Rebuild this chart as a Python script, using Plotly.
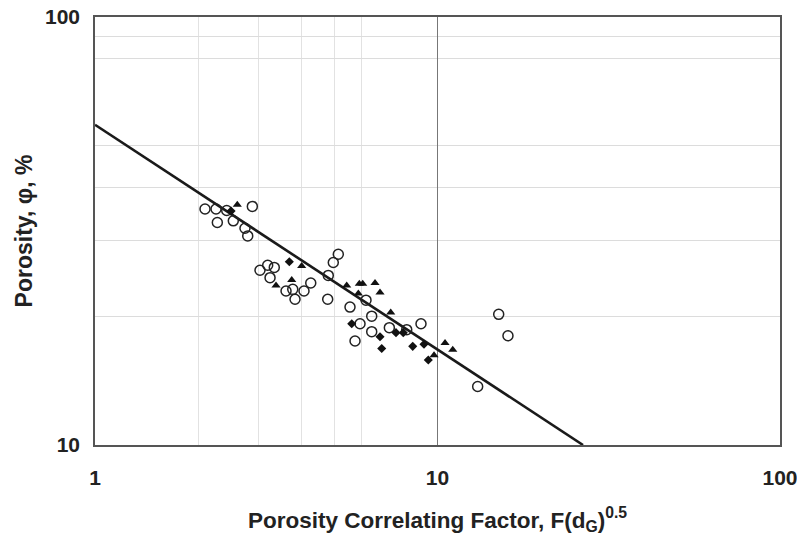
import plotly.graph_objects as go

# Open circles
circ_x = [2.095, 2.256, 2.276, 2.424, 2.534, 2.741, 2.792, 2.880, 3.032, 3.193, 3.338, 3.244,
          3.612, 3.837, 3.779, 4.076, 4.265, 4.780, 4.799, 4.963, 5.133, 5.553, 5.940, 6.184,
          6.426, 6.426, 5.744, 7.234, 8.131, 8.950, 15.09, 16.06, 13.10]
circ_y = [35.6, 35.6, 33.1, 35.3, 33.4, 32.1, 30.8, 36.1, 25.6, 26.3, 26.0, 24.6,
          22.9, 21.9, 23.1, 22.9, 23.9, 21.9, 24.9, 26.7, 27.9, 21.0, 19.2, 21.8,
          20.0, 18.4, 17.5, 18.8, 18.6, 19.2, 20.2, 18.0, 13.7]

# Filled triangles
tri_x = [2.603, 3.377, 3.753, 4.013, 5.431, 5.873, 5.912, 6.048, 6.570, 6.795, 7.302, 10.52, 11.08, 9.77]
tri_y = [36.4, 23.6, 24.3, 26.2, 23.6, 22.6, 23.8, 23.8, 23.9, 22.7, 20.4, 17.3, 16.7, 16.2]

# Filled diamonds
dia_x = [2.496, 3.693, 5.618, 6.795, 6.873, 7.565, 7.945, 8.466, 9.132, 9.400]
dia_y = [35.2, 26.8, 19.2, 17.9, 16.8, 18.3, 18.3, 17.0, 17.2, 15.8]

# Correlation line
line_x = [1.0, 26.6]
line_y = [56.0, 10.0]

x_ticks = [1, 10, 100]
y_ticks = [10, 100]
x_minor = [2, 3, 4, 5, 6]
y_minor = [20, 30, 40, 50, 80, 90]

fig = go.Figure()
fig.add_trace(go.Scatter(x=line_x, y=line_y, mode="lines",
                         line=dict(color="#1a1a1a", width=2.6), hoverinfo="skip"))
fig.add_trace(go.Scatter(x=circ_x, y=circ_y, mode="markers",
                         marker=dict(symbol="circle-open", size=10, color="#222",
                                     line=dict(width=1.5, color="#222"))))
fig.add_trace(go.Scatter(x=tri_x, y=tri_y, mode="markers",
                         marker=dict(symbol="triangle-up", size=8, color="#111")))
fig.add_trace(go.Scatter(x=dia_x, y=dia_y, mode="markers",
                         marker=dict(symbol="diamond", size=7, color="#111")))

fig.update_layout(
    width=805, height=539,
    margin=dict(l=87, r=33, t=9, b=102),
    paper_bgcolor="white", plot_bgcolor="white",
    showlegend=False,
    font=dict(family="Liberation Sans, Arial, sans-serif", color="#222"),
)
fig.update_xaxes(
    type="log", range=[0, 2], automargin=False,
    tickvals=x_ticks, ticktext=[str(v) for v in x_ticks],
    tickfont=dict(size=21, family="Liberation Sans, Arial", weight="bold"),
    ticks="", ticklabelstandoff=13, ticklabeloverflow="allow",
    showgrid=True, gridcolor="#777", gridwidth=1,
    minor=dict(tickvals=x_minor, showgrid=True, gridcolor="#e2e2e2", gridwidth=1, ticks=""),
    showline=True, linecolor="#555", linewidth=1.5, mirror=True,
    zeroline=False,
    title=dict(text="<b>Porosity Correlating Factor, F(d<sub>G</sub>)<sup>0.5</sup></b>",
               font=dict(size=22.5), standoff=24),
)
fig.update_yaxes(
    type="log", range=[1, 2], automargin=False,
    tickvals=y_ticks, ticktext=[str(v) for v in y_ticks],
    tickfont=dict(size=21, family="Liberation Sans, Arial", weight="bold"),
    ticks="", ticklabelstandoff=9, ticklabeloverflow="allow",
    showgrid=True, gridcolor="#555", gridwidth=1,
    minor=dict(tickvals=y_minor, showgrid=True, gridcolor="#dcdcdc", gridwidth=1, ticks=""),
    showline=True, linecolor="#555", linewidth=1.5, mirror=True,
    zeroline=False,
    title=dict(text="<b>Porosity, φ, %</b>", font=dict(size=23), standoff=6),
)

fig.write_html("out.html")
